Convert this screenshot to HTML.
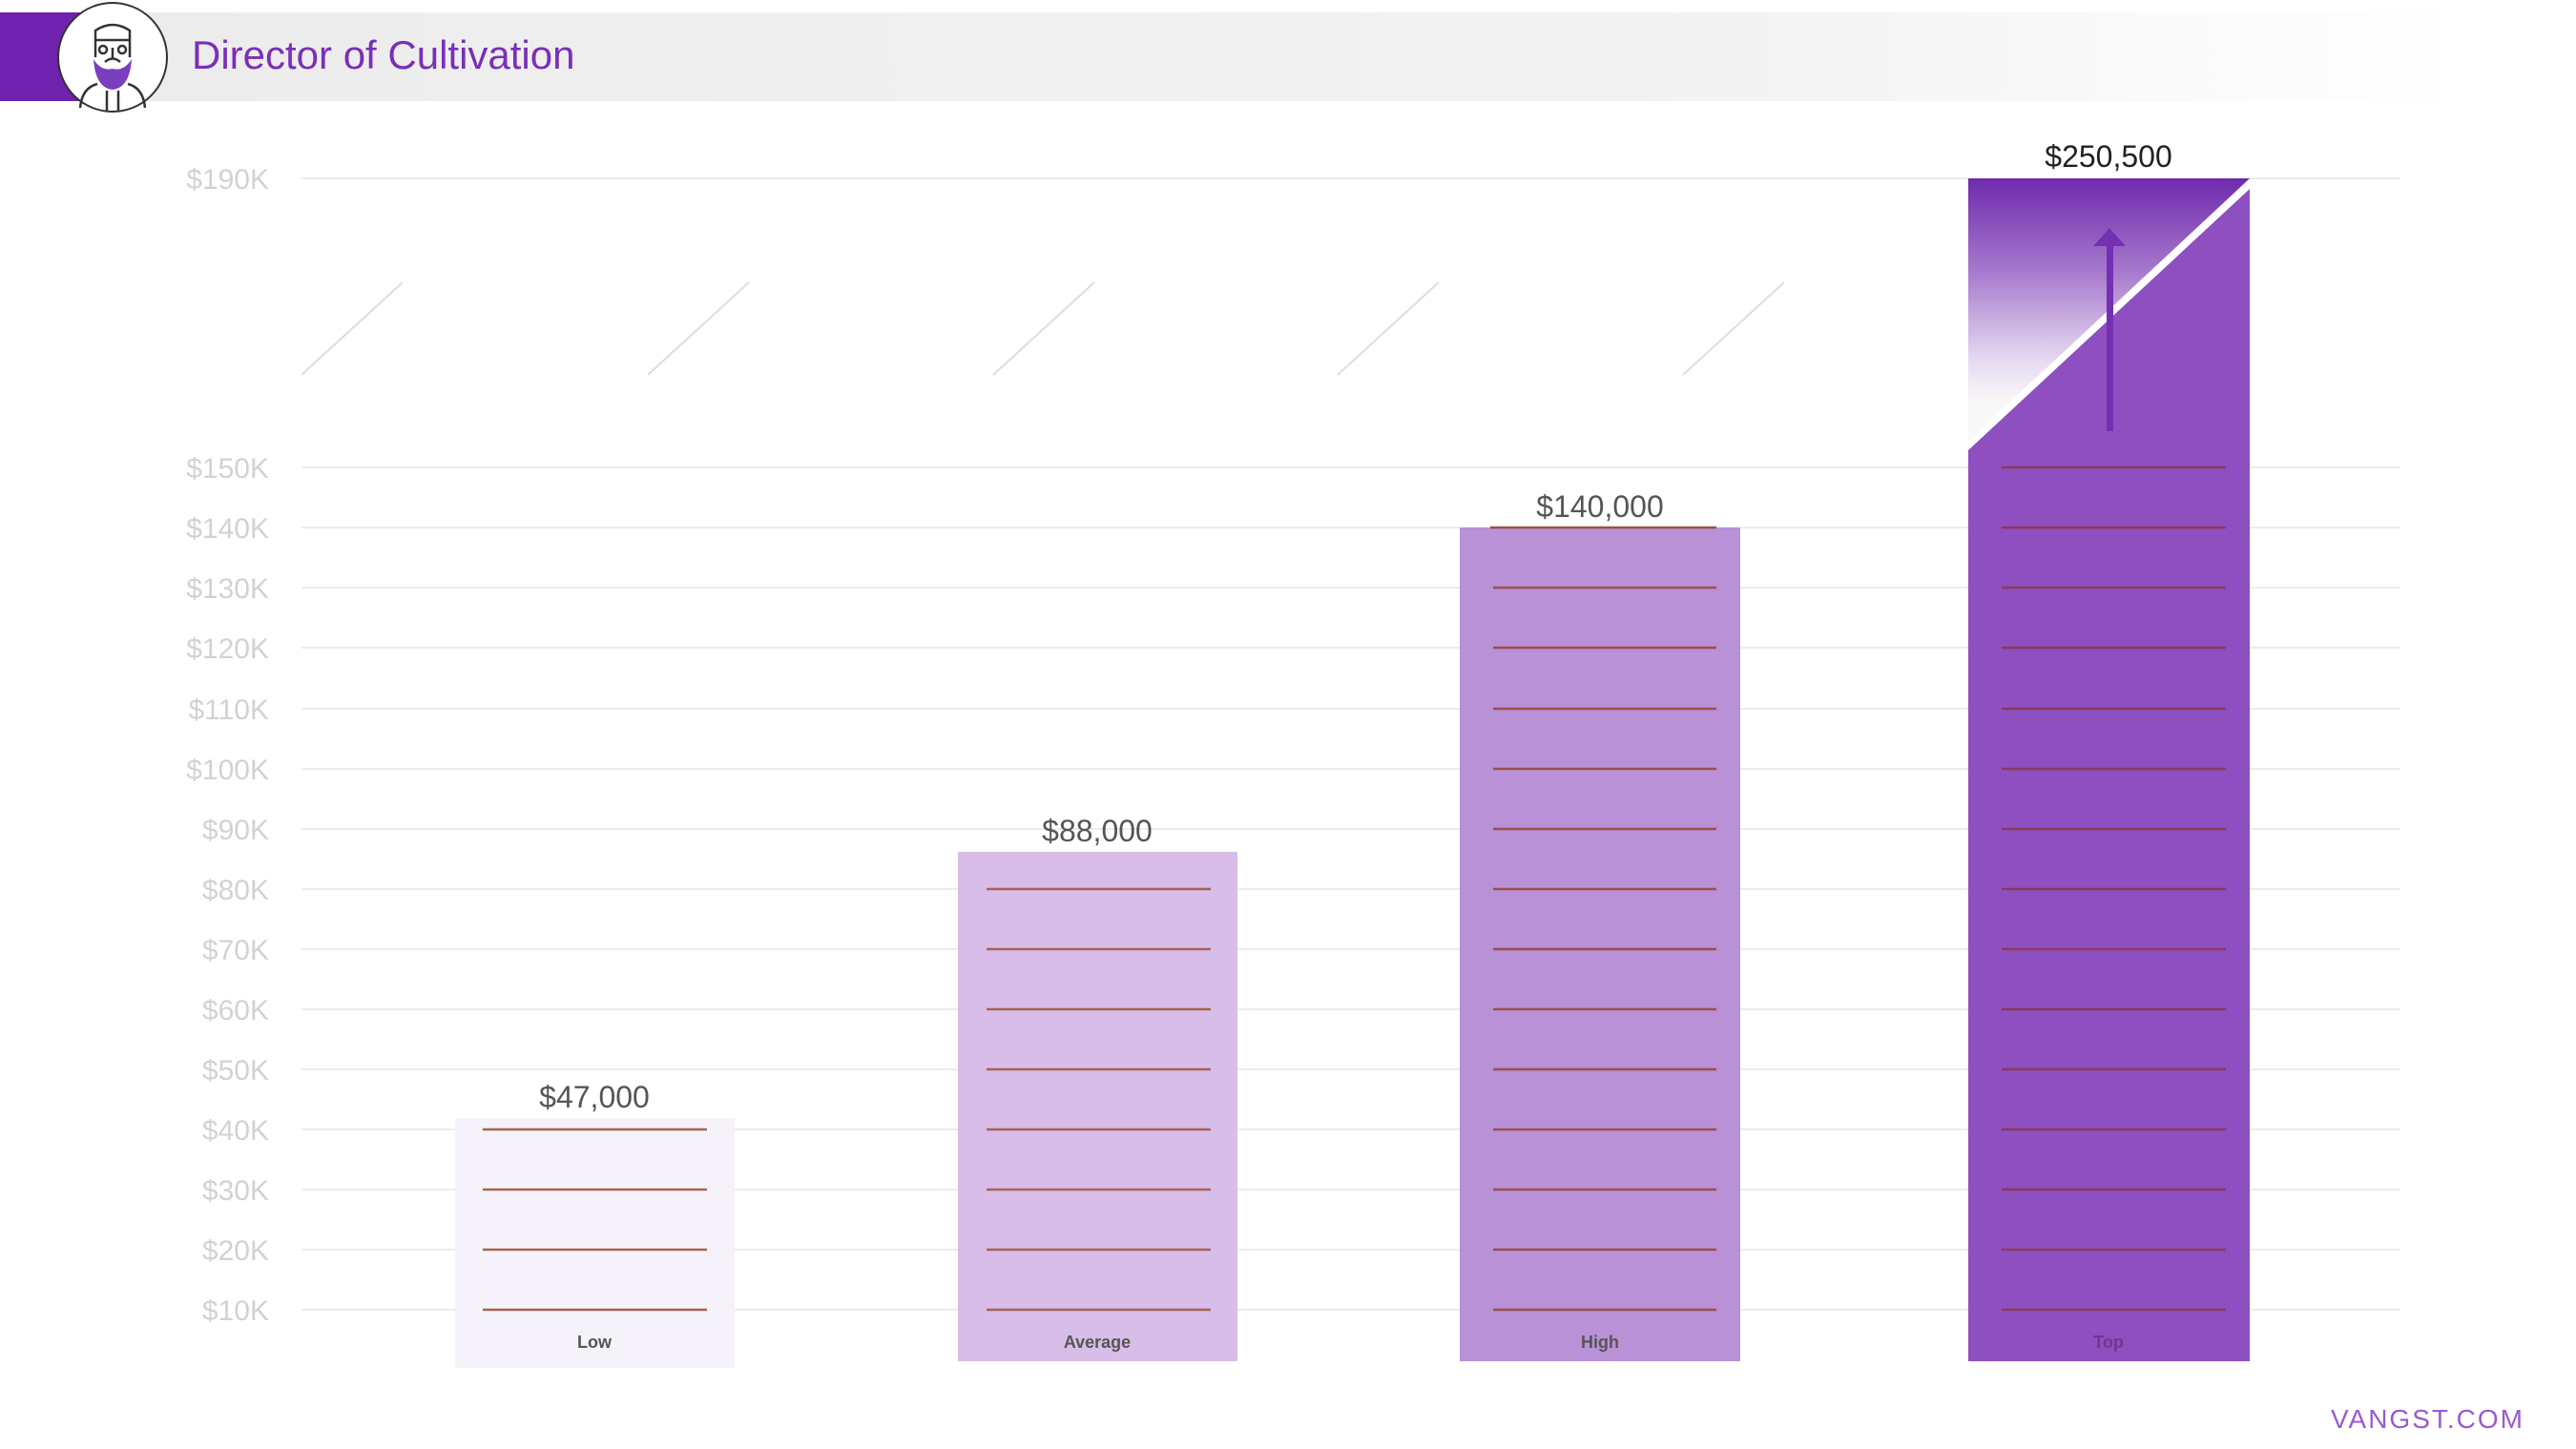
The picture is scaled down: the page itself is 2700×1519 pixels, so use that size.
<!DOCTYPE html>
<html><head><meta charset="utf-8"><style>
html,body{margin:0;padding:0;background:#fff;}
svg{display:block;}
</style></head><body>
<svg width="2700" height="1519" viewBox="0 0 2700 1519" xmlns="http://www.w3.org/2000/svg" font-family="Liberation Sans, sans-serif">
<defs>
<linearGradient id="hdr" x1="0" x2="1" y1="0" y2="0">
<stop offset="0" stop-color="#ececec"/><stop offset="0.7" stop-color="#f3f3f3"/><stop offset="1" stop-color="#ffffff"/>
</linearGradient>
<linearGradient id="tg" x1="0" x2="0" y1="0" y2="1">
<stop offset="0" stop-color="#6e2aad"/><stop offset="0.35" stop-color="#a678cc"/><stop offset="0.7" stop-color="#e8dcf2"/><stop offset="0.85" stop-color="#f8f8f8"/><stop offset="1" stop-color="#f8f8f8"/>
</linearGradient>
</defs>
<!-- header -->
<rect x="85" y="13" width="2500" height="93" fill="url(#hdr)"/>
<rect x="0" y="13" width="90" height="93" fill="#6f22ae"/>
<ellipse cx="118" cy="60" rx="57" ry="57" fill="#fff" stroke="#333" stroke-width="2"/>
<g fill="none" stroke="#333" stroke-width="2.5">
<path d="M100 60 V32 Q118 20 136 32 V60"/>
<path d="M100 42 H136"/>
<circle cx="108" cy="52" r="4"/><circle cx="128" cy="52" r="4"/>
<path d="M118 50 V62 M110 65 Q118 58 126 65"/>
<path d="M84 113 Q86 92 102 88 M152 113 Q150 92 134 88 M112 95 V117 M124 95 V117"/>
</g>
<path d="M98 62 Q100 92 118 94 Q136 92 138 62 Q130 75 118 72 Q106 75 98 62Z" fill="#7a3fbf"/>
<text x="201" y="72" font-size="42" fill="#7a2fb8">Director of Cultivation</text>
<!-- gridlines -->
<g stroke="#ececec" stroke-width="2">
<line x1="316" x2="2516" y1="187" y2="187"/>
<line x1="316" x2="2516" y1="490" y2="490"/>
<line x1="316" x2="2516" y1="553" y2="553"/>
<line x1="316" x2="2516" y1="616" y2="616"/>
<line x1="316" x2="2516" y1="679" y2="679"/>
<line x1="316" x2="2516" y1="743" y2="743"/>
<line x1="316" x2="2516" y1="806" y2="806"/>
<line x1="316" x2="2516" y1="869" y2="869"/>
<line x1="316" x2="2516" y1="932" y2="932"/>
<line x1="316" x2="2516" y1="995" y2="995"/>
<line x1="316" x2="2516" y1="1058" y2="1058"/>
<line x1="316" x2="2516" y1="1121" y2="1121"/>
<line x1="316" x2="2516" y1="1184" y2="1184"/>
<line x1="316" x2="2516" y1="1247" y2="1247"/>
<line x1="316" x2="2516" y1="1310" y2="1310"/>
<line x1="316" x2="2516" y1="1373" y2="1373"/>
</g>
<g stroke="#dddddd" stroke-width="2">
<line x1="316" y1="393" x2="422" y2="296"/>
<line x1="679" y1="393" x2="785" y2="296"/>
<line x1="1041" y1="393" x2="1147" y2="296"/>
<line x1="1402" y1="393" x2="1508" y2="296"/>
<line x1="1764" y1="393" x2="1870" y2="296"/>
</g>
<g font-size="30" fill="#d2d2d2" text-anchor="end">
<text x="282" y="198">$190K</text>
<text x="282" y="501">$150K</text>
<text x="282" y="564">$140K</text>
<text x="282" y="627">$130K</text>
<text x="282" y="690">$120K</text>
<text x="282" y="754">$110K</text>
<text x="282" y="817">$100K</text>
<text x="282" y="880">$90K</text>
<text x="282" y="943">$80K</text>
<text x="282" y="1006">$70K</text>
<text x="282" y="1069">$60K</text>
<text x="282" y="1132">$50K</text>
<text x="282" y="1195">$40K</text>
<text x="282" y="1258">$30K</text>
<text x="282" y="1321">$20K</text>
<text x="282" y="1384">$10K</text>
</g>
<!-- bars -->
<rect x="477" y="1172" width="293" height="262" fill="#f5f2fa"/>
<rect x="1004" y="893" width="293" height="534" fill="#d7bde8"/>
<rect x="1530" y="553" width="294" height="874" fill="#b991d7"/>
<polygon points="2063,187 2358,187 2063,463" fill="url(#tg)"/>
<polygon points="2063,472 2358,198 2358,1427 2063,1427" fill="#8e4fc0"/>
<line x1="2063" y1="467" x2="2358" y2="192" stroke="#fff" stroke-width="7"/>
<rect x="2208" y="255" width="7" height="197" fill="#7330b2"/>
<polygon points="2194,258 2228,258 2211,239" fill="#7330b2"/>
<!-- inner lines -->
<g stroke="#a86250" stroke-width="2.5">
<line x1="506" x2="741" y1="1184" y2="1184"/><line x1="506" x2="741" y1="1247" y2="1247"/><line x1="506" x2="741" y1="1310" y2="1310"/><line x1="506" x2="741" y1="1373" y2="1373"/>
<line x1="1034" x2="1269" y1="932" y2="932"/><line x1="1034" x2="1269" y1="995" y2="995"/><line x1="1034" x2="1269" y1="1058" y2="1058"/><line x1="1034" x2="1269" y1="1121" y2="1121"/><line x1="1034" x2="1269" y1="1184" y2="1184"/><line x1="1034" x2="1269" y1="1247" y2="1247"/><line x1="1034" x2="1269" y1="1310" y2="1310"/><line x1="1034" x2="1269" y1="1373" y2="1373"/>
</g>
<g stroke="#9a5048" stroke-width="2.5">
<line x1="1562" x2="1799" y1="553" y2="553"/><line x1="1565" x2="1799" y1="616" y2="616"/><line x1="1565" x2="1799" y1="679" y2="679"/><line x1="1565" x2="1799" y1="743" y2="743"/><line x1="1565" x2="1799" y1="806" y2="806"/><line x1="1565" x2="1799" y1="869" y2="869"/><line x1="1565" x2="1799" y1="932" y2="932"/><line x1="1565" x2="1799" y1="995" y2="995"/><line x1="1565" x2="1799" y1="1058" y2="1058"/><line x1="1565" x2="1799" y1="1121" y2="1121"/><line x1="1565" x2="1799" y1="1184" y2="1184"/><line x1="1565" x2="1799" y1="1247" y2="1247"/><line x1="1565" x2="1799" y1="1310" y2="1310"/><line x1="1565" x2="1799" y1="1373" y2="1373"/>
</g>
<g stroke="#8a3a5a" stroke-width="2.5">
<line x1="2098" x2="2333" y1="490" y2="490"/><line x1="2098" x2="2333" y1="553" y2="553"/><line x1="2098" x2="2333" y1="616" y2="616"/><line x1="2098" x2="2333" y1="679" y2="679"/><line x1="2098" x2="2333" y1="743" y2="743"/><line x1="2098" x2="2333" y1="806" y2="806"/><line x1="2098" x2="2333" y1="869" y2="869"/><line x1="2098" x2="2333" y1="932" y2="932"/><line x1="2098" x2="2333" y1="995" y2="995"/><line x1="2098" x2="2333" y1="1058" y2="1058"/><line x1="2098" x2="2333" y1="1121" y2="1121"/><line x1="2098" x2="2333" y1="1184" y2="1184"/><line x1="2098" x2="2333" y1="1247" y2="1247"/><line x1="2098" x2="2333" y1="1310" y2="1310"/><line x1="2098" x2="2333" y1="1373" y2="1373"/>
</g>
<!-- value labels -->
<g font-size="32" fill="#555" text-anchor="middle">
<text x="623" y="1161">$47,000</text>
<text x="1150" y="882">$88,000</text>
<text x="1677" y="542">$140,000</text>
<text x="2210" y="175" fill="#222">$250,500</text>
</g>
<g font-size="18" font-weight="bold" fill="#555" text-anchor="middle">
<text x="623" y="1413">Low</text>
<text x="1150" y="1413">Average</text>
<text x="1677" y="1413">High</text>
<text x="2210" y="1413" fill="#6a3a8e">Top</text>
</g>
<text x="2646" y="1497" font-size="28" fill="#9b59d0" text-anchor="end" letter-spacing="2">VANGST.COM</text>
</svg>
</body></html>
